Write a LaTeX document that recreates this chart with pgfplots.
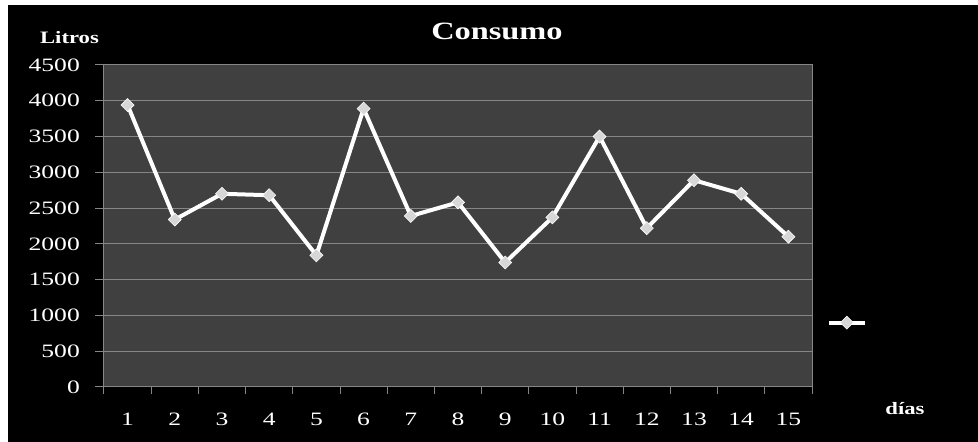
\documentclass[border=0pt]{standalone}
\usepackage{pgfplots}
\pgfplotsset{compat=1.18}
\usepackage{graphicx}
\usepackage{fontspec}
\setmainfont{Liberation Serif}
\definecolor{plotbg}{RGB}{64,64,64}
\definecolor{gridc}{RGB}{134,134,134}
\definecolor{markc}{RGB}{215,215,215}
\newcommand{\hs}[1]{\scalebox{1.35}[1]{#1}}
\begin{document}
\begin{tikzpicture}[x=1bp,y=1bp]
\fill[white] (-104,-55) rectangle (874,387);
\fill[black] (-96,-55) rectangle (874,382);
\begin{axis}[
  at={(0,0)}, anchor=south west,
  scale only axis, width=708bp, height=322bp,
  xmin=0.5, xmax=15.5, ymin=0, ymax=4500,
  axis background/.style={fill=plotbg},
  axis line style={gridc, line width=1bp},
  xtick={1,...,15}, ytick={0,500,...,4500},
  minor xtick={0.5,1.5,...,15.5},
  major x tick style={draw=none},
  minor x tick style={gridc, line width=1bp},
  minor tick length=7bp,
  major tick length=9bp,
  tick align=outside, tick pos=left,
  ytick style={gridc, line width=1bp},
  ymajorgrids, grid style={gridc, line width=1bp},
  scaled ticks=false,
  /pgf/number format/assume math mode=true,
  /pgf/number format/1000 sep={},
  tick label style={font=\fontsize{19}{20}\selectfont, text=white},
  xticklabel={\hs{\pgfmathprintnumber{\tick}}},
  yticklabel={\hs{\pgfmathprintnumber{\tick}}},
  yticklabel style={inner sep=0pt, xshift=-15bp},
  xticklabel style={inner sep=0pt, yshift=-17bp},
  legend style={at={(rel axis cs:1.052,0.2)}, anchor=center, draw=none, fill=none, text=white, inner sep=0pt},
  legend image code/.code={\draw[mark repeat=2,mark phase=2] plot coordinates {(0bp,0bp) (18bp,0bp) (36bp,0bp)};},
]
\addplot[white, line width=4bp, mark=square*, mark size=4.6bp,
  mark options={rotate=45, fill=markc, draw=white, line width=0.6bp}]
  coordinates {(1,3940) (2,2340) (3,2700) (4,2680) (5,1840) (6,3890) (7,2390) (8,2580)
    (9,1740) (10,2370) (11,3500) (12,2220) (13,2890) (14,2700) (15,2100)};
\addlegendentry{}
\end{axis}
\node[text=white, font=\bfseries\fontsize{25}{25}\selectfont, inner sep=0pt] at (393,356) {\scalebox{1.3}[1]{Consumo}};
\node[text=white, font=\bfseries\fontsize{17.5}{18}\selectfont, inner sep=0pt] at (-34.5,349.5) {\scalebox{1.3}[1]{Litros}};
\node[text=white, font=\bfseries\fontsize{17.5}{18}\selectfont, inner sep=0pt] at (801,-22) {\scalebox{1.3}[1]{días}};
\pgfresetboundingbox
\path[use as bounding box] (-104,-55) rectangle (874,387);
\end{tikzpicture}
\end{document}
